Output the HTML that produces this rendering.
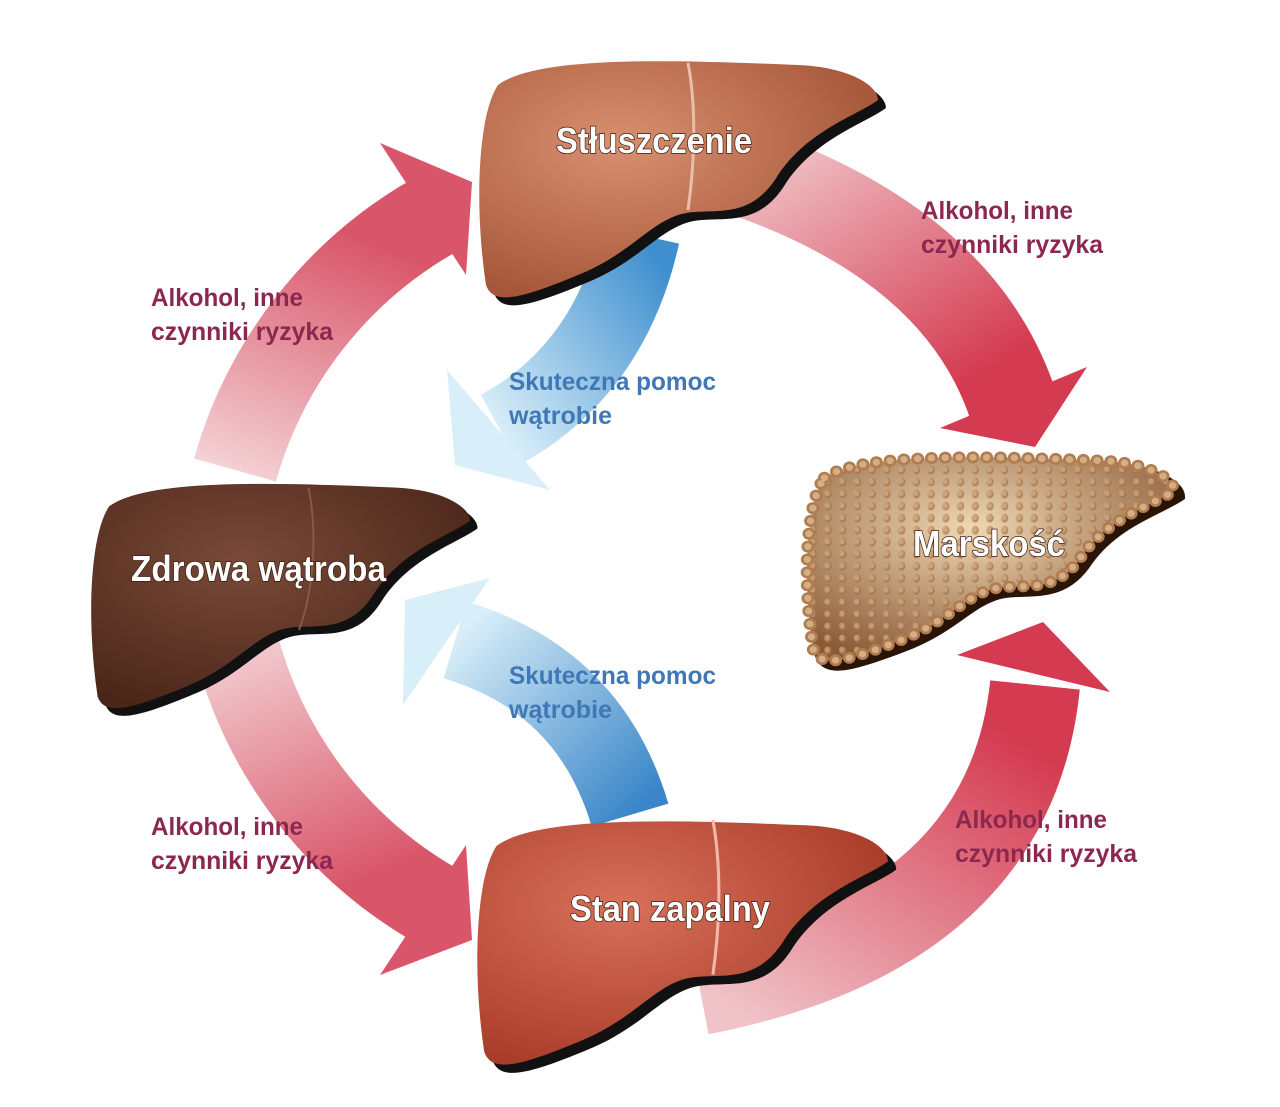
<!DOCTYPE html>
<html><head><meta charset="utf-8"><style>
html,body{margin:0;padding:0;background:#fff;}
svg{display:block}
.lab{font-family:"Liberation Sans Narrow","Liberation Sans",sans-serif;font-weight:bold;font-size:25px;fill:#8c2750}
.blu{font-family:"Liberation Sans Narrow","Liberation Sans",sans-serif;font-weight:bold;font-size:25px;fill:#3f78b5}
.lv{font-family:"Liberation Sans Narrow","Liberation Sans",sans-serif;font-weight:bold;font-size:36px;fill:#fff;stroke:#3a1a10;stroke-width:1.5px;paint-order:stroke}
</style></head><body>
<svg width="1280" height="1107" viewBox="0 0 1280 1107" xmlns="http://www.w3.org/2000/svg">
<defs>
<linearGradient id="gL1" x1="0" y1="1" x2="0.3" y2="0"><stop offset="0" stop-color="#f3d0d3"/><stop offset="1" stop-color="#d9566a"/></linearGradient>
<linearGradient id="gL2" x1="0" y1="0" x2="0.3" y2="1"><stop offset="0" stop-color="#f3d0d3"/><stop offset="1" stop-color="#d9566a"/></linearGradient>
<linearGradient id="gR1" x1="0" y1="0" x2="0.7" y2="1"><stop offset="0" stop-color="#f0c3c8"/><stop offset="1" stop-color="#d43a50"/></linearGradient>
<linearGradient id="gR2" x1="0" y1="1" x2="0.7" y2="0"><stop offset="0" stop-color="#f0c3c8"/><stop offset="1" stop-color="#d43a50"/></linearGradient>
<linearGradient id="gB1" x1="1" y1="0" x2="0" y2="1"><stop offset="0" stop-color="#3f8fcf"/><stop offset="1" stop-color="#d8eef8"/></linearGradient>
<linearGradient id="gB2" x1="1" y1="1" x2="0" y2="0"><stop offset="0" stop-color="#3a86c8"/><stop offset="1" stop-color="#d8eef8"/></linearGradient>
<radialGradient id="lvTop" cx="0.35" cy="0.35" r="0.7"><stop offset="0" stop-color="#d89070"/><stop offset="1" stop-color="#a55538"/></radialGradient>
<radialGradient id="lvLeft" cx="0.4" cy="0.35" r="0.7"><stop offset="0" stop-color="#7a4a38"/><stop offset="1" stop-color="#4a2618"/></radialGradient>
<radialGradient id="lvBot" cx="0.35" cy="0.35" r="0.7"><stop offset="0" stop-color="#d8705a"/><stop offset="1" stop-color="#a83c28"/></radialGradient>
<radialGradient id="lvCir" cx="0.45" cy="0.35" r="0.7"><stop offset="0" stop-color="#f0d8b4"/><stop offset="1" stop-color="#8a5a38"/></radialGradient>
<pattern id="bumps" width="16" height="14" patternUnits="userSpaceOnUse"><ellipse cx="8" cy="7" rx="4" ry="5" fill="#a67448" opacity="0.7"/><ellipse cx="7" cy="6" rx="3" ry="3.5" fill="#e2c29a" opacity="0.5"/></pattern>
<path id="liver" d="M20,30 C60,0 200,5 320,10 C370,12 400,30 400,45 C380,60 330,75 300,120 C270,170 230,150 200,160 C170,170 150,200 100,220 C40,245 15,250 8,230 C-4,150 0,60 20,30 Z"/>
</defs>

<!-- red arrows -->
<path d="M 235 470 A 425 425 0 0 1 435 215" fill="none" stroke="url(#gL1)" stroke-width="85"/>
<polygon points="380,143 472,182 466,275" fill="#d9566a"/>
<path d="M 235 640 A 425 425 0 0 0 435 905" fill="none" stroke="url(#gL2)" stroke-width="85"/>
<polygon points="380,975 472,940 466,845" fill="#d9566a"/>
<path d="M 740 170 Q 960 245 1013 405" fill="none" stroke="url(#gR1)" stroke-width="90"/>
<polygon points="940,428 1087,367 1035,447" fill="#d43a50"/>
<path d="M 700 990 Q 1010 930 1035 685" fill="none" stroke="url(#gR2)" stroke-width="90"/>
<polygon points="957,655 1043,622 1110,692" fill="#d43a50"/>

<!-- blue arrows -->
<path d="M 640 235 Q 610 370 500 430" fill="none" stroke="url(#gB1)" stroke-width="80"/>
<polygon points="447,370 455,465 550,490" fill="#d8eef8"/>
<path d="M 630 815 Q 590 680 455 640" fill="none" stroke="url(#gB2)" stroke-width="80"/>
<polygon points="405,600 490,578 403,705" fill="#d8eef8"/>

<!-- livers -->
<g transform="translate(478,55)">
<use href="#liver" transform="translate(8,8)" fill="#111"/>
<use href="#liver" fill="url(#lvTop)"/>
<path d="M210,8 C220,60 215,120 210,155" stroke="#e8c0a8" stroke-width="3" fill="none"/>
</g>
<g transform="translate(90,478) scale(0.95,0.95)">
<use href="#liver" transform="translate(8,8)" fill="#111"/>
<use href="#liver" fill="url(#lvLeft)"/>
<path d="M230,10 C240,60 235,120 220,160" stroke="#8a5a48" stroke-width="2" fill="none"/>
</g>
<g transform="translate(476,815) scale(1.03,1.03)">
<use href="#liver" transform="translate(8,8)" fill="#111"/>
<use href="#liver" fill="url(#lvBot)"/>
<path d="M230,5 C240,60 235,120 230,155" stroke="#f0b8a8" stroke-width="3" fill="none"/>
</g>
<g transform="translate(806,452) scale(0.92,0.86)">
<use href="#liver" transform="translate(7,7)" fill="#2a1408" stroke="#2a1408" stroke-width="10"/>
<use href="#liver" fill="url(#lvCir)"/>
<use href="#liver" fill="url(#bumps)"/>
<use href="#liver" fill="none" stroke="#b07c50" stroke-width="14" stroke-dasharray="0 15" stroke-linecap="round"/>
<use href="#liver" fill="none" stroke="#d4ae84" stroke-width="8" stroke-dasharray="0 15" stroke-linecap="round"/>
</g>

<!-- labels -->
<text class="lv" x="556" y="153" textLength="196" lengthAdjust="spacingAndGlyphs">Stłuszczenie</text>
<text class="lv" x="131" y="581" textLength="255" lengthAdjust="spacingAndGlyphs">Zdrowa wątroba</text>
<text class="lv" x="570" y="921" textLength="200" lengthAdjust="spacingAndGlyphs">Stan zapalny</text>
<text class="lv" x="913" y="556" textLength="152" lengthAdjust="spacingAndGlyphs">Marskość</text>

<text class="lab" x="921" y="219" textLength="152" lengthAdjust="spacingAndGlyphs">Alkohol, inne</text>
<text class="lab" x="921" y="253" textLength="182" lengthAdjust="spacingAndGlyphs">czynniki ryzyka</text>
<text class="lab" x="151" y="306" textLength="152" lengthAdjust="spacingAndGlyphs">Alkohol, inne</text>
<text class="lab" x="151" y="340" textLength="182" lengthAdjust="spacingAndGlyphs">czynniki ryzyka</text>
<text class="lab" x="151" y="835" textLength="152" lengthAdjust="spacingAndGlyphs">Alkohol, inne</text>
<text class="lab" x="151" y="869" textLength="182" lengthAdjust="spacingAndGlyphs">czynniki ryzyka</text>
<text class="lab" x="955" y="828" textLength="152" lengthAdjust="spacingAndGlyphs">Alkohol, inne</text>
<text class="lab" x="955" y="862" textLength="182" lengthAdjust="spacingAndGlyphs">czynniki ryzyka</text>

<text class="blu" x="509" y="390" textLength="207" lengthAdjust="spacingAndGlyphs">Skuteczna pomoc</text>
<text class="blu" x="509" y="424" textLength="103" lengthAdjust="spacingAndGlyphs">wątrobie</text>
<text class="blu" x="509" y="684" textLength="207" lengthAdjust="spacingAndGlyphs">Skuteczna pomoc</text>
<text class="blu" x="509" y="718" textLength="103" lengthAdjust="spacingAndGlyphs">wątrobie</text>
</svg>
</body></html>
